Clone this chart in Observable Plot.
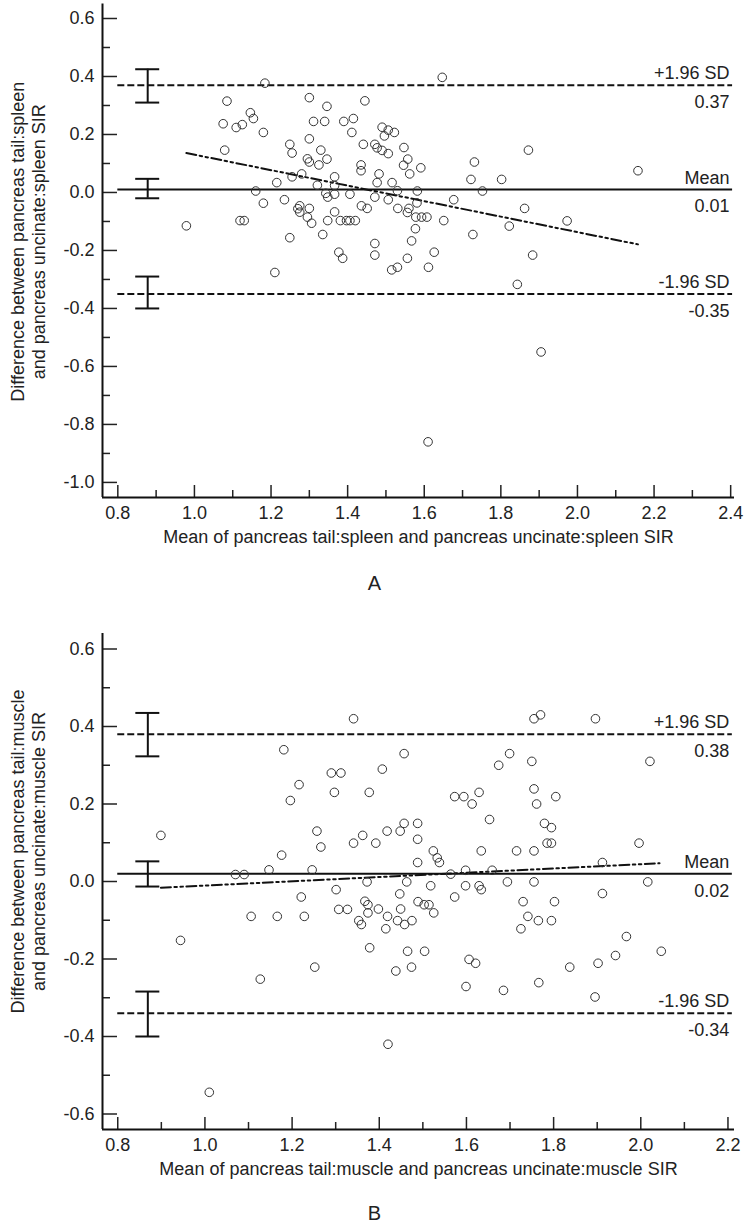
<!DOCTYPE html>
<html><head><meta charset="utf-8">
<script src="https://cdn.jsdelivr.net/npm/d3@7"></script>
<script src="https://cdn.jsdelivr.net/npm/@observablehq/plot@0.6"></script>
<style>
body{margin:0;background:#fff;width:749px;font-family:"Liberation Sans",Arial,sans-serif;color:#222}
.cap{text-align:center;font-size:20px;}
svg{display:block}
</style></head><body>
<div id="a"></div><div class="cap" style="height:36px;line-height:36px">A</div>
<div id="b"></div><div class="cap" style="height:32px;line-height:44px">B</div>
<script>
// ---------- Panel A data ----------
const pointsA = [
[1.184,0.377],[1.085,0.315],[1.300,0.327],[1.346,0.297],[1.146,0.275],[1.154,0.255],[1.075,0.237],[1.109,0.224],
[1.125,0.234],[1.180,0.207],[1.311,0.245],[1.340,0.245],[1.300,0.185],[1.079,0.146],[1.249,0.166],[1.255,0.136],
[1.330,0.146],[1.295,0.116],[1.300,0.105],[1.346,0.115],[1.325,0.095],[1.280,0.064],[1.255,0.054],[1.215,0.034],
[1.321,0.025],[1.160,0.005],[1.343,-0.003],[1.348,-0.016],[1.235,-0.025],[1.180,-0.037],[1.275,-0.046],[1.300,-0.055],
[1.270,-0.056],[1.275,-0.068],[1.295,-0.085],[1.306,-0.106],[1.348,-0.097],[1.119,-0.097],[1.130,-0.097],[0.979,-0.115],
[1.335,-0.145],[1.249,-0.156],[1.210,-0.276],
[1.647,0.397],[1.445,0.316],[1.390,0.245],[1.415,0.255],[1.411,0.207],[1.490,0.225],[1.506,0.215],[1.522,0.207],
[1.496,0.195],[1.441,0.166],[1.471,0.166],[1.477,0.154],[1.490,0.145],[1.506,0.134],[1.547,0.155],[1.557,0.115],
[1.546,0.094],[1.591,0.085],[1.562,0.064],[1.435,0.095],[1.435,0.075],[1.482,0.064],[1.366,0.054],[1.477,0.034],
[1.516,0.034],[1.530,0.006],[1.582,0.005],[1.366,0.024],[1.366,-0.006],[1.406,-0.006],[1.471,-0.016],[1.506,-0.025],
[1.581,-0.036],[1.677,-0.025],[1.752,0.005],[1.722,0.045],[1.802,0.045],[1.731,0.105],[1.872,0.146],[1.436,-0.046],
[1.451,-0.055],[1.366,-0.067],[1.531,-0.055],[1.560,-0.055],[1.556,-0.069],[1.578,-0.085],[1.593,-0.085],[1.607,-0.085],
[1.381,-0.097],[1.397,-0.097],[1.406,-0.097],[1.420,-0.097],[1.651,-0.097],[1.862,-0.055],[1.577,-0.125],[1.567,-0.167],
[1.471,-0.176],[1.471,-0.216],[1.377,-0.206],[1.387,-0.227],[1.556,-0.227],[1.626,-0.206],[1.515,-0.267],[1.530,-0.258],
[1.611,-0.258],[1.727,-0.145],[1.822,-0.116],[1.883,-0.216],[1.843,-0.317],[2.158,0.075],[1.973,-0.098],
[1.905,-0.55],[1.61,-0.86]
];
const limitsA = [0.37, 0.01, -0.35];
const limitTextA = ["0.37", "0.01", "-0.35"];
const ciLowA = [0.31, -0.02, -0.40];
const ciHighA = [0.425, 0.047, -0.29];
const regressionA = [[0.979, 0.136], [2.158, -0.179]];
const xTicksA = [0.8, 1.0, 1.2, 1.4, 1.6, 1.8, 2.0, 2.2, 2.4];
const xMinorA = [0.9, 1.1, 1.3, 1.5, 1.7, 1.9, 2.1, 2.3];
const yTicksA = [-1.0, -0.8, -0.6, -0.4, -0.2, 0.0, 0.2, 0.4, 0.6];
const yMinorA = [-0.9, -0.7, -0.5, -0.3, -0.1, 0.1, 0.3, 0.5];
const xTitleA = "Mean of pancreas tail:spleen and pancreas uncinate:spleen SIR";
const yTitleA = "Difference between pancreas tail:spleen\nand pancreas uncinate:spleen SIR";

// ---------- Panel B data ----------
const pointsB = [
[1.181,0.340],[1.216,0.250],[1.196,0.209],[1.290,0.280],[0.899,0.119],[1.257,0.130],[1.266,0.089],[1.176,0.068],
[1.070,0.018],[1.090,0.018],[1.147,0.030],[1.246,0.030],[1.221,-0.040],
[1.341,0.420],[1.755,0.420],[1.770,0.430],[1.457,0.330],[1.312,0.280],[1.407,0.290],[1.297,0.230],[1.377,0.230],
[1.674,0.300],[1.699,0.330],[1.750,0.310],[1.573,0.219],[1.594,0.219],[1.629,0.230],[1.613,0.200],[1.755,0.239],
[1.761,0.200],[1.653,0.160],[1.341,0.099],[1.362,0.119],[1.392,0.099],[1.418,0.130],[1.448,0.130],[1.457,0.150],
[1.488,0.150],[1.488,0.109],[1.488,0.049],[1.524,0.079],[1.533,0.061],[1.538,0.049],[1.634,0.079],[1.715,0.079],
[1.755,0.079],[1.564,0.019],[1.598,0.029],[1.659,0.029],[1.372,-0.001],[1.463,-0.001],[1.694,-0.001],[1.755,-0.001],
[1.301,-0.021],[1.518,-0.011],[1.598,-0.011],[1.629,-0.011],[1.634,-0.021],[1.447,-0.032],
[1.896,0.420],[2.021,0.310],[1.805,0.219],[1.779,0.150],[1.795,0.139],[1.785,0.099],[1.795,0.099],[1.996,0.099],
[1.912,0.049],[2.016,-0.001],[1.912,-0.031],
[1.573,-0.040],[1.730,-0.052],[1.802,-0.052],[1.367,-0.051],[1.374,-0.060],[1.489,-0.052],[1.503,-0.060],[1.514,-0.060],
[1.307,-0.072],[1.327,-0.072],[1.374,-0.081],[1.398,-0.071],[1.449,-0.071],[1.525,-0.081],[1.106,-0.090],[1.166,-0.090],
[1.228,-0.090],[1.419,-0.090],[1.353,-0.101],[1.359,-0.111],[1.442,-0.101],[1.458,-0.111],[1.475,-0.101],[1.415,-0.122],
[1.741,-0.090],[1.765,-0.101],[1.795,-0.101],[1.725,-0.122],[0.944,-0.152],[1.967,-0.142],[1.378,-0.171],[1.465,-0.180],
[1.504,-0.180],[2.047,-0.180],[1.942,-0.191],[1.606,-0.201],[1.621,-0.211],[1.902,-0.211],[1.252,-0.221],[1.837,-0.221],
[1.438,-0.231],[1.474,-0.221],[1.127,-0.252],[1.766,-0.261],[1.599,-0.271],[1.685,-0.281],[1.895,-0.298],
[1.42,-0.42],[1.01,-0.544]
];
const limitsB = [0.38, 0.02, -0.34];
const limitTextB = ["0.38", "0.02", "-0.34"];
const ciLowB = [0.323, -0.013, -0.40];
const ciHighB = [0.435, 0.052, -0.284];
const regressionB = [[0.899, -0.016], [2.043, 0.047]];
const xTicksB = [0.8, 1.0, 1.2, 1.4, 1.6, 1.8, 2.0, 2.2];
const xMinorB = [0.9, 1.1, 1.3, 1.5, 1.7, 1.9, 2.1];
const yTicksB = [-0.6, -0.4, -0.2, 0.0, 0.2, 0.4, 0.6];
const yMinorB = [-0.5, -0.3, -0.1, 0.1, 0.3, 0.5];
const xTitleB = "Mean of pancreas tail:muscle and pancreas uncinate:muscle SIR";
const yTitleB = "Difference between pancreas tail:muscle\nand pancreas uncinate:muscle SIR";

const limitNames = ["+1.96 SD", "Mean", "-1.96 SD"];

const FONT = '"Liberation Sans", Arial, Helvetica, sans-serif';
const INK = "#111";

function panel(o) {
  const fmt = d => d.toFixed(1);
  const idx = [0, 1, 2];
  const caps = [...o.ciLow, ...o.ciHigh];
  return Plot.plot({
    width: 749, height: o.height,
    marginLeft: 102, marginRight: 15, marginTop: o.marginTop, marginBottom: o.marginBottom,
    x: {domain: o.xDomain},
    y: {domain: o.yDomain},
    style: {fontFamily: FONT, fontSize: "18px", color: "#222", background: "white", overflow: "visible"},
    marks: [
      Plot.axisX({ticks: o.xTicks, tickSize: 12, dy: -12, tickPadding: 9, tickFormat: fmt, label: null, strokeWidth: 1.5}),
      Plot.axisX({ticks: o.xMinor, tickSize: 7, dy: -7, tickFormat: () => "", label: null, strokeWidth: 1.5}),
      Plot.axisY({ticks: o.yTicks, tickSize: 15, dx: 15, tickPadding: 8, tickFormat: fmt, label: null, strokeWidth: 1.5}),
      Plot.axisY({ticks: o.yMinor, tickSize: 8, dx: 8, tickFormat: () => "", label: null, strokeWidth: 1.5}),
      Plot.ruleX([o.xDomain[0]], {stroke: INK, strokeWidth: 2}),
      Plot.ruleY([o.yDomain[0]], {stroke: INK, strokeWidth: 2}),
      Plot.ruleY([o.limits[0], o.limits[2]], {x1: o.lineSpan[0], x2: o.lineSpan[1], stroke: INK, strokeWidth: 2, strokeDasharray: "7,3"}),
      Plot.ruleY([o.limits[1]], {x1: o.lineSpan[0], x2: o.lineSpan[1], stroke: INK, strokeWidth: 2}),
      Plot.text(idx, {x: () => o.lineSpan[1], y: i => o.limits[i], text: i => limitNames[i], textAnchor: "end", lineAnchor: "bottom", dx: -3, dy: -6, fill: "#222"}),
      Plot.text(idx, {x: () => o.lineSpan[1], y: i => o.limits[i], text: i => o.limitText[i], textAnchor: "end", lineAnchor: "top", dx: -3, dy: 10, fill: "#222"}),
      Plot.ruleX(idx, {x: () => o.ciX, y1: i => o.ciLow[i], y2: i => o.ciHigh[i], stroke: INK, strokeWidth: 2}),
      Plot.ruleY(caps, {y: d => d, x1: () => o.ciX, x2: () => o.ciX, insetLeft: -12, insetRight: -12, stroke: INK, strokeWidth: 2}),
      Plot.line(o.regression, {x: d => d[0], y: d => d[1], stroke: INK, strokeWidth: 2, strokeDasharray: "10,3.5,2.5,3.5,2.5,3.5"}),
      Plot.dot(o.points, {x: d => d[0], y: d => d[1], r: 4.3, stroke: "#333", fill: "none", strokeWidth: 1}),
      Plot.text([o.xTitle], {frameAnchor: "bottom", dy: 45, text: d => d, textAnchor: "middle", fill: "#222"}),
      Plot.text([o.yTitle], {frameAnchor: "left", rotate: -90, dx: -75, dy: o.yTitleDy, text: d => d, textAnchor: "middle", lineAnchor: "middle", lineHeight: 1.17, fill: "#222"})
    ]
  });
}

document.getElementById("a").append(panel({
  height: 565, marginTop: 3.5, marginBottom: 68,
  xDomain: [0.76, 2.41], yDomain: [-1.052, 0.65],
  xTicks: xTicksA, xMinor: xMinorA, yTicks: yTicksA, yMinor: yMinorA,
  limits: limitsA, limitText: limitTextA, ciLow: ciLowA, ciHigh: ciHighA, ciX: 0.878,
  lineSpan: [0.8, 2.405], regression: regressionA, points: pointsA,
  xTitle: xTitleA, yTitle: yTitleA, yTitleDy: -9
}));
document.getElementById("b").append(panel({
  height: 590, marginTop: 32, marginBottom: 62,
  xDomain: [0.765, 2.215], yDomain: [-0.64, 0.64],
  xTicks: xTicksB, xMinor: xMinorB, yTicks: yTicksB, yMinor: yMinorB,
  limits: limitsB, limitText: limitTextB, ciLow: ciLowB, ciHigh: ciHighB, ciX: 0.869,
  lineSpan: [0.8, 2.21], regression: regressionB, points: pointsB,
  xTitle: xTitleB, yTitle: yTitleB, yTitleDy: -30
}));
</script></body></html>
